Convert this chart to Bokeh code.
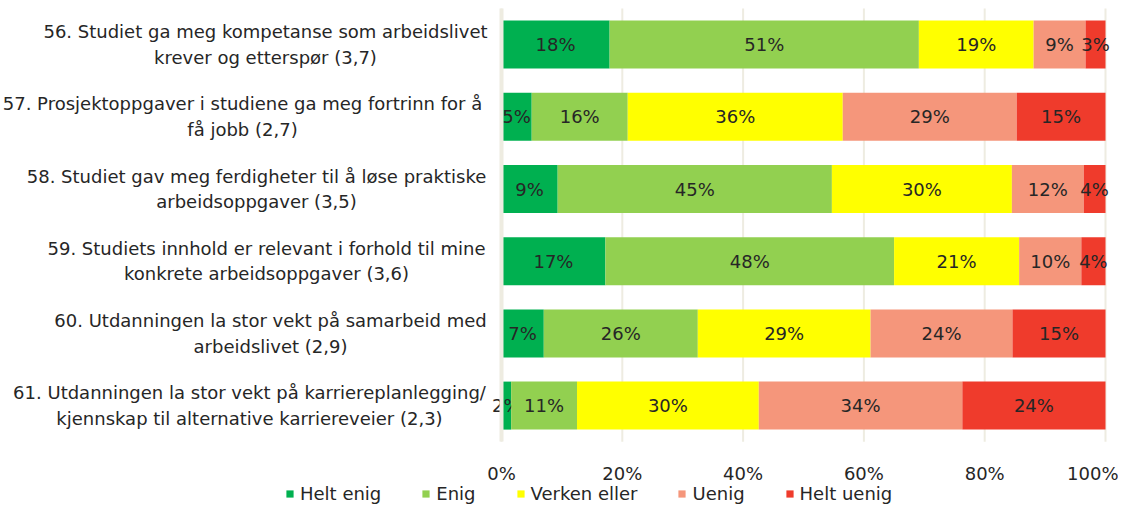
from bokeh.plotting import figure
from bokeh.models import (ColumnDataSource, Range1d, Legend, LegendItem, FixedTicker)
from bokeh.embed import file_html
from bokeh.resources import INLINE
from bokeh.core.properties import value

categories = [
    "56. Studiet ga meg kompetanse som arbeidslivet\nkrever og etterspør (3,7)",
    "57. Prosjektoppgaver i studiene ga meg fortrinn for å\nfå jobb (2,7)",
    "58. Studiet gav meg ferdigheter til å løse praktiske\narbeidsoppgaver (3,5)",
    "59. Studiets innhold er relevant i forhold til mine\nkonkrete arbeidsoppgaver (3,6)",
    "60. Utdanningen la stor vekt på samarbeid med\narbeidslivet (2,9)",
    "61. Utdanningen la stor vekt på karriereplanlegging/\nkjennskap til alternative karriereveier (2,3)",
]
series = ["Helt enig", "Enig", "Verken eller", "Uenig", "Helt uenig"]
helt_enig = [17.9, 5.0, 9.3, 17.2, 7.0, 1.6]
enig = [51.2, 15.9, 45.4, 47.8, 25.5, 10.9]
verken_eller = [19.0, 35.6, 29.8, 20.7, 28.6, 30.1]
uenig = [8.6, 28.8, 11.9, 10.3, 23.5, 33.7]
helt_uenig = [3.3, 14.7, 3.6, 4.0, 15.4, 23.7]
colors = ["#00B050", "#92D050", "#FFFF00", "#F5967B", "#EF3B2C"]
x_ticks = [0, 20, 40, 60, 80, 100]
x_tick_labels = ["0%", "20%", "40%", "60%", "80%", "100%"]

values = [helt_enig, enig, verken_eller, uenig, helt_uenig]
n = len(categories)
ypos = [n - 1 - i for i in range(n)]          # first question on top

FONT = "DejaVu Sans"
FS = "18px"
TXT = "#262626"
GRID = "#EEECE1"

# layout (pixels)
W, H = 1118, 504
ZERO_PX, HUNDRED_PX = 501, 1105
PX_PER_UNIT = (HUNDRED_PX - ZERO_PX) / 100.0
ROW_PX = 72.2
TOP_PX = 8
label_centers_px = [265, 242, 256, 266, 270, 249]

y_top = (n - 0.5) + TOP_PX / ROW_PX
y_bot = y_top - H / ROW_PX
band = (-0.5, n - 0.5)

p = figure(
    width=W, height=H,
    x_range=Range1d(-ZERO_PX / PX_PER_UNIT, (W - ZERO_PX) / PX_PER_UNIT),
    y_range=Range1d(y_bot, y_top),
    output_backend="svg", toolbar_location=None,
    min_border=0,
)
p.outline_line_color = None
p.background_fill_color = "white"

# vertical grid lines at the percentage ticks, limited to the bar band
p.segment(x0=x_ticks, x1=x_ticks, y0=[band[0]] * len(x_ticks), y1=[band[1]] * len(x_ticks),
          line_color=GRID, line_width=2, level="underlay")

items = []
left = [0.0] * n
for name, vals, col in zip(series, values, colors):
    right = [l + v for l, v in zip(left, vals)]
    src = ColumnDataSource(dict(
        y=ypos, left=left, right=right,
        mid=[(l + r) / 2 for l, r in zip(left, right)],
        lab=[f"{round(v)}%" for v in vals],
    ))
    r = p.hbar(y="y", left="left", right="right", height=0.665, source=src,
               fill_color=col, line_color=None)
    p.text(x="mid", y="y", text="lab", source=src, text_align="center",
           text_baseline="middle", text_font=value(FONT), text_font_size=FS,
           text_color=TXT)
    items.append(LegendItem(label=name, renderers=[r]))
    left = right

# category labels: lines centred within each label block
cat_src = ColumnDataSource(dict(
    y=ypos, text=categories,
    x=[(c - ZERO_PX) / PX_PER_UNIT for c in label_centers_px],
))
p.text(x="x", y="y", text="text", source=cat_src, text_align="center",
       text_baseline="middle", text_font=value(FONT), text_font_size=FS,
       text_color=TXT, text_line_height=1.22)

# axes
p.xaxis.fixed_location = band[0]
p.xaxis.ticker = FixedTicker(ticks=x_ticks)
p.xaxis.major_label_overrides = {t: l for t, l in zip(x_ticks, x_tick_labels)}
p.xaxis.axis_line_color = None
p.xaxis.major_tick_line_color = None
p.xaxis.major_tick_out = 0
p.xaxis.major_tick_in = 0
p.xaxis.minor_tick_line_color = None
p.xaxis.major_label_standoff = 21
p.xaxis.major_label_text_font = FONT
p.xaxis.major_label_text_font_size = FS
p.xaxis.major_label_text_color = TXT

p.yaxis.fixed_location = 0
p.yaxis.bounds = band
p.yaxis.ticker = FixedTicker(ticks=[])
p.yaxis.axis_line_color = GRID
p.yaxis.axis_line_width = 4
p.yaxis.major_tick_line_color = None
p.yaxis.minor_tick_line_color = None
p.yaxis.major_label_text_color = None

p.xgrid.grid_line_color = None
p.ygrid.grid_line_color = None

legend = Legend(items=items, orientation="horizontal", location=(285, 0),
                glyph_width=9, glyph_height=9, label_standoff=6, spacing=40,
                padding=0, margin=0, border_line_color=None, background_fill_alpha=0,
                label_text_font=FONT, label_text_font_size=FS, label_text_color=TXT)
p.add_layout(legend, "center")

open("out.html", "w").write(file_html(p, INLINE))
